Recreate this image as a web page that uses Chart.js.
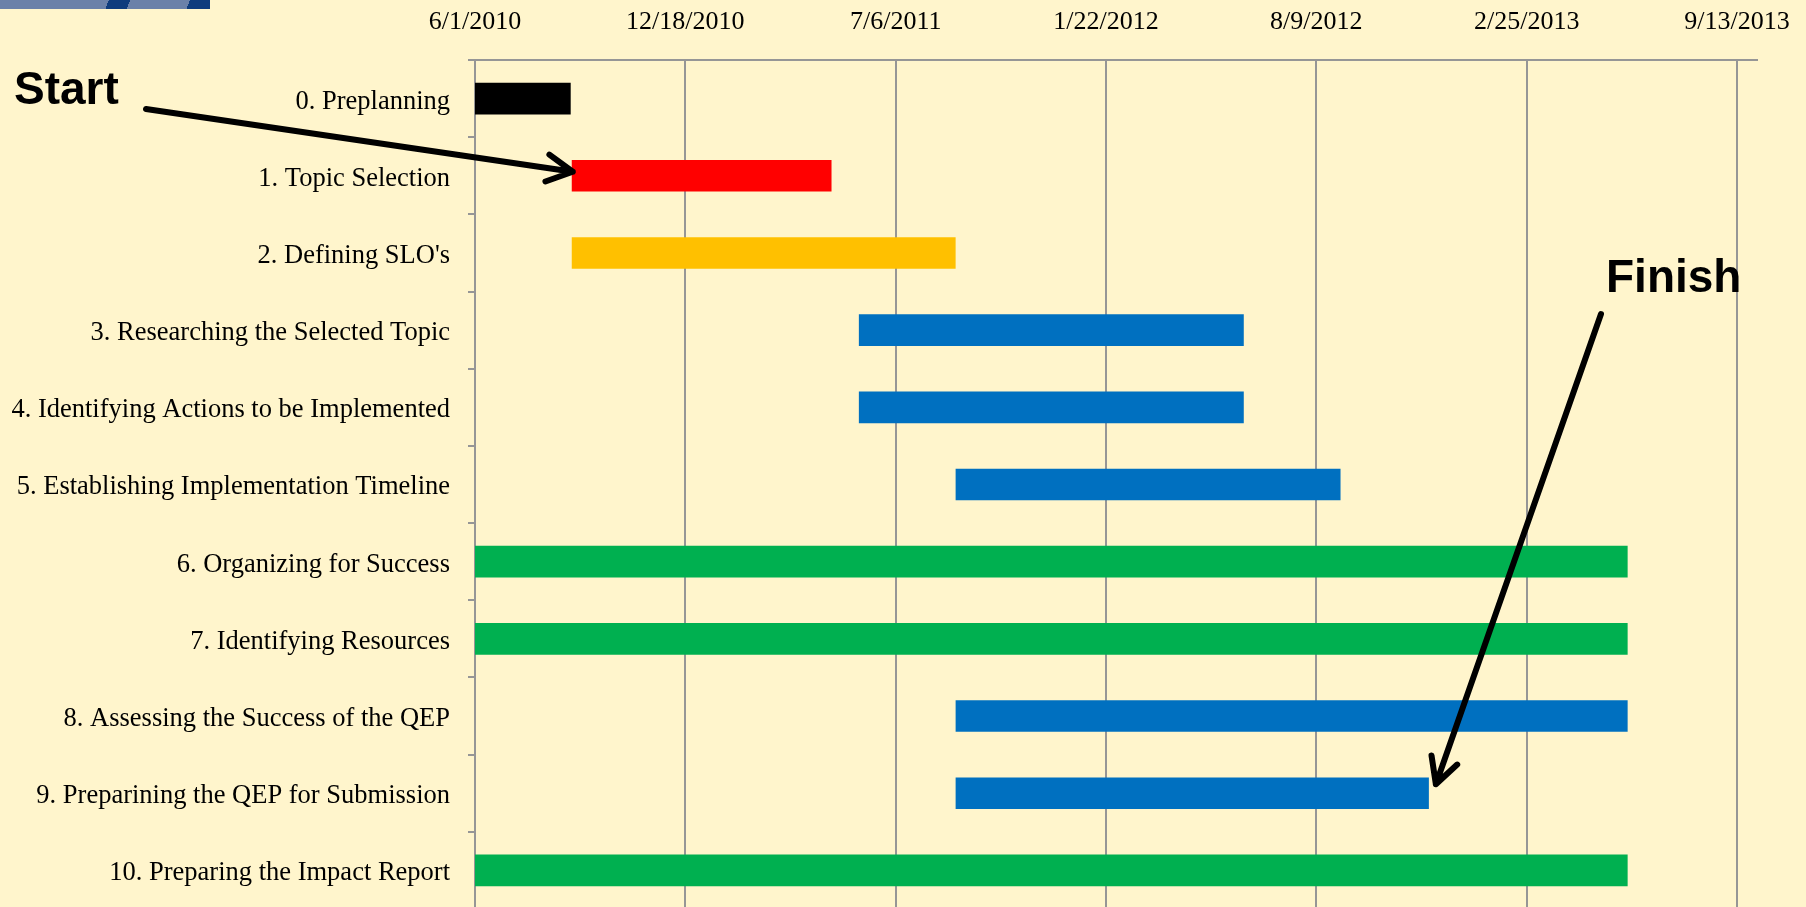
<!DOCTYPE html>
<html>
<head>
<meta charset="utf-8">
<title>QEP Timeline</title>
<script src="https://cdn.jsdelivr.net/npm/chart.js@4.4.1/dist/chart.umd.min.js"></script>
<style>
  html, body { margin: 0; padding: 0; background: #fff5cc; overflow: hidden; }
  #wrap { position: relative; width: 1806px; height: 907px; overflow: hidden; }
  .banner {
    position: absolute; left: 0; top: 0; width: 210px; height: 9px;
    background: linear-gradient(110deg, #6b81a9 0 51%, #0f3c7d 51% 61%, #6b81a9 61% 89%, #0f3c7d 89% 100%);
  }
  canvas { position: absolute; left: 0; top: 0; }
</style>
</head>
<body>
<div id="wrap">
  <div class="banner"></div>
  <canvas id="gantt" width="1806" height="909"></canvas>
</div>
<script>
// task names, top to bottom
const tasks = [
  '0. Preplanning',
  '1. Topic Selection',
  "2. Defining SLO's",
  '3. Researching the Selected Topic',
  '4. Identifying Actions to be Implemented',
  '5. Establishing Implementation Timeline',
  '6. Organizing for Success',
  '7. Identifying Resources',
  '8. Assessing the Success of the QEP',
  '9. Preparining the QEP for Submission',
  '10. Preparing the Impact Report',
];
const startDates = ['6/1/2010', '9/1/2010', '9/1/2010', '6/1/2011', '6/1/2011', '9/1/2011',
  '6/1/2010', '6/1/2010', '9/1/2011', '9/1/2011', '6/1/2010'];
const endDates = ['8/31/2010', '5/6/2011', '9/1/2011', '6/1/2012', '6/1/2012', '9/1/2012',
  '6/1/2013', '6/1/2013', '6/1/2013', '11/24/2012', '6/1/2013'];
const barColors = ['#000000', '#ff0000', '#ffc000', '#0070c0', '#0070c0', '#0070c0',
  '#00b050', '#00b050', '#0070c0', '#0070c0', '#00b050'];
// date axis labels (every 200 days) and where the axis stops
const tickDates = ['6/1/2010', '12/18/2010', '7/6/2011', '1/22/2012', '8/9/2012', '2/25/2013', '9/13/2013'];
const axisEnd = '10/2/2013';

const toDay = (s) => {
  const [m, d, y] = s.split('/').map(Number);
  return Date.UTC(y, m - 1, d) / 864e5;
};

const gridGray = '#969696';
const serif = '"Liberation Serif", "Times New Roman", serif';

function drawArrow(ctx, x1, y1, x2, y2) {
  const ang = Math.atan2(y1 - y2, x1 - x2);
  const head = 29;
  const spread = 28 * Math.PI / 180;
  ctx.beginPath();
  ctx.moveTo(x1, y1);
  ctx.lineTo(x2, y2);
  ctx.moveTo(x2 + head * Math.cos(ang - spread), y2 + head * Math.sin(ang - spread));
  ctx.lineTo(x2, y2);
  ctx.lineTo(x2 + head * Math.cos(ang + spread), y2 + head * Math.sin(ang + spread));
  ctx.stroke();
}

// Start / Finish callouts, arrows point at the first and last bars
const callouts = {
  id: 'callouts',
  afterDatasetsDraw(chart) {
    const { ctx } = chart;
    const bars = chart.getDatasetMeta(0).data;
    const first = bars[1];
    const last = bars[9];
    ctx.save();
    ctx.fillStyle = '#000';
    ctx.strokeStyle = '#000';
    ctx.lineWidth = 6;
    ctx.lineCap = 'round';
    ctx.lineJoin = 'round';
    ctx.font = 'bold 46px "Liberation Sans", Arial, sans-serif';
    ctx.textBaseline = 'alphabetic';
    ctx.fillText('Start', 14, 104);
    ctx.fillText('Finish', 1606, 292);
    drawArrow(ctx, 146, 109, first.base + 1, first.y - 4);
    drawArrow(ctx, 1601, 314, last.x + 7, last.y - 9);
    ctx.restore();
  },
};

new Chart(document.getElementById('gantt'), {
  type: 'bar',
  data: {
    labels: tasks,
    datasets: [{
      data: startDates.map((s, i) => [toDay(s), toDay(endDates[i])]),
      backgroundColor: barColors,
      borderWidth: 0,
      borderSkipped: false,
      barPercentage: 0.41,
      categoryPercentage: 1,
    }],
  },
  options: {
    indexAxis: 'y',
    responsive: false,
    animation: false,
    devicePixelRatio: 1,
    layout: { padding: { left: 0, right: 49, top: 0, bottom: 0 } },
    plugins: { legend: { display: false }, tooltip: { enabled: false } },
    scales: {
      x: {
        type: 'linear',
        position: 'top',
        min: toDay(tickDates[0]),
        max: toDay(axisEnd),
        afterBuildTicks: (scale) => {
          scale.ticks = tickDates.map((t) => ({ value: toDay(t) }));
        },
        afterFit: (scale) => {
          scale.height = 60;
          scale.paddingLeft = 0;
          scale.paddingRight = 0;
        },
        ticks: {
          autoSkip: false,
          maxRotation: 0,
          padding: 22,
          color: '#000',
          font: { family: serif, size: 26 },
          callback: (v, i) => tickDates[i],
        },
        grid: { color: gridGray, lineWidth: 2, drawTicks: false },
        border: { color: gridGray, width: 2 },
      },
      y: {
        type: 'category',
        afterFit: (scale) => {
          scale.width = 475;
          scale.paddingTop = 0;
          scale.paddingBottom = 0;
        },
        ticks: {
          padding: 18,
          labelOffset: 3,
          color: '#000',
          font: { family: serif, size: 26.5 },
        },
        grid: {
          drawOnChartArea: false,
          offset: true,
          color: gridGray,
          lineWidth: 2,
          tickLength: 7,
        },
        border: { color: gridGray, width: 2 },
      },
    },
  },
  plugins: [callouts],
});
</script>
</body>
</html>
